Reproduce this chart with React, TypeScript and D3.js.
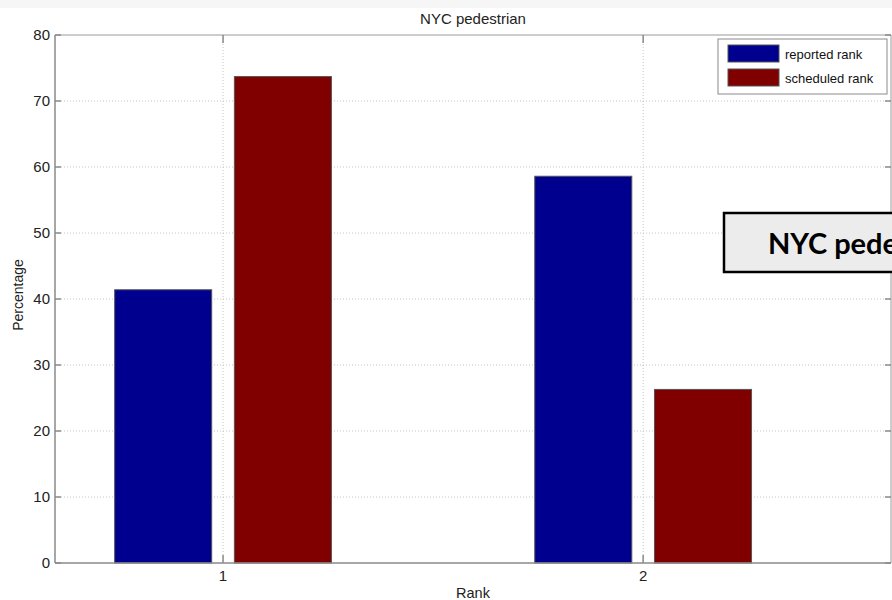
import React from 'react';
import * as d3 from 'd3';

const ranks = [1, 2];
const reported = [41.4, 58.6];
const scheduled = [73.7, 26.3];
const yTicks = [0, 10, 20, 30, 40, 50, 60, 70, 80];
const seriesNames = ['reported rank', 'scheduled rank'];
const seriesColors = ['#00008f', '#800000'];

const W = 892;
const H = 600;
const left = 55;
const right = 891;
const top = 35;
const bottom = 563;
const font = 'Liberation Sans, Arial, sans-serif';

export default function App() {
  const x = d3.scaleLinear().domain([0.6, 2.59]).range([left, right]);
  const y = d3.scaleLinear().domain([0, 80]).range([bottom, top]);

  const barOffset = 0.1425;
  const barWidth = 0.231;
  const series = [reported, scheduled];

  return (
    <svg width={W} height={H} style={{ position: 'absolute', left: 0, top: 0 }}>
      <rect x={0} y={0} width={W} height={H} fill="#fff" />
      <rect x={0} y={0} width={W} height={8} fill="#f6f6f6" />

      {/* grid */}
      {yTicks.slice(1, -1).map(t => (
        <line key={'gy' + t} x1={left} x2={right} y1={y(t)} y2={y(t)}
          stroke="#c4c4c4" strokeWidth={1} strokeDasharray="1,2" />
      ))}
      {ranks.map(r => (
        <line key={'gx' + r} x1={x(r)} x2={x(r)} y1={top} y2={bottom}
          stroke="#c4c4c4" strokeWidth={1} strokeDasharray="1,2" />
      ))}

      {/* bars */}
      {series.map((vals, s) =>
        vals.map((v, i) => {
          const cx = x(ranks[i]) + (s === 0 ? -1 : 1) * (x(barOffset) - x(0));
          const bw = x(barWidth) - x(0);
          return (
            <rect key={s + '-' + i} x={cx - bw / 2} y={y(v)} width={bw} height={y(0) - y(v)}
              fill={seriesColors[s]} stroke="#555" strokeWidth={1} />
          );
        })
      )}

      {/* axes box */}
      <line x1={left} x2={right} y1={top} y2={top} stroke="#9a9a9a" strokeWidth={1} />
      <line x1={right} x2={right} y1={top} y2={bottom} stroke="#9a9a9a" strokeWidth={1} />
      <line x1={left} x2={left} y1={top} y2={bottom} stroke="#8a8a8a" strokeWidth={1.5} />
      <line x1={left} x2={right} y1={bottom} y2={bottom} stroke="#8a8a8a" strokeWidth={1.5} />

      {/* ticks */}
      {yTicks.map(t => (
        <g key={'ty' + t}>
          <line x1={left} x2={left + 6} y1={y(t)} y2={y(t)} stroke="#8a8a8a" strokeWidth={1.5} />
          <line x1={right - 6} x2={right} y1={y(t)} y2={y(t)} stroke="#8a8a8a" strokeWidth={1.5} />
          <text x={left - 5} y={y(t)} dy="0.36em" textAnchor="end" fontFamily={font}
            fontSize={15} fill="#222">{t}</text>
        </g>
      ))}
      {ranks.map(r => (
        <g key={'tx' + r}>
          <line x1={x(r)} x2={x(r)} y1={bottom} y2={bottom - 8} stroke="#8a8a8a" strokeWidth={1.5} />
          <line x1={x(r)} x2={x(r)} y1={top} y2={top + 8} stroke="#8a8a8a" strokeWidth={1.5} />
          <text x={x(r)} y={581} textAnchor="middle" fontFamily={font} fontSize={15} fill="#222">{r}</text>
        </g>
      ))}

      {/* labels */}
      <text x={(left + right) / 2} y={24} textAnchor="middle" fontFamily={font} fontSize={15} fill="#222">
        NYC pedestrian
      </text>
      <text x={(left + right) / 2} y={598} textAnchor="middle" fontFamily={font} fontSize={14.5} fill="#222">
        Rank
      </text>
      <text transform={`translate(23,${(top + bottom) / 2 - 4}) rotate(-90)`} textAnchor="middle"
        fontFamily={font} fontSize={14} fill="#222">Percentage</text>

      {/* legend */}
      <rect x={718} y={39} width={169} height={55} fill="#fff" stroke="#8a8a8a" strokeWidth={1} />
      {seriesNames.map((n, i) => (
        <g key={n}>
          <rect x={728} y={45 + i * 24} width={51} height={17} fill={seriesColors[i]} stroke="#555" strokeWidth={1} />
          <text x={785} y={59 + i * 24} fontFamily={font} fontSize={13} fill="#111">{n}</text>
        </g>
      ))}

      {/* overlay label, cut off by the right edge as in the source image */}
      <rect x={724} y={213} width={200} height={59} fill="#ececec" stroke="#000" strokeWidth={2.5} />
      <text x={768} y={254} fontFamily="Lato, sans-serif" fontWeight="bold" fontSize={29} fill="#000">
        NYC pedestrian
      </text>
    </svg>
  );
}
